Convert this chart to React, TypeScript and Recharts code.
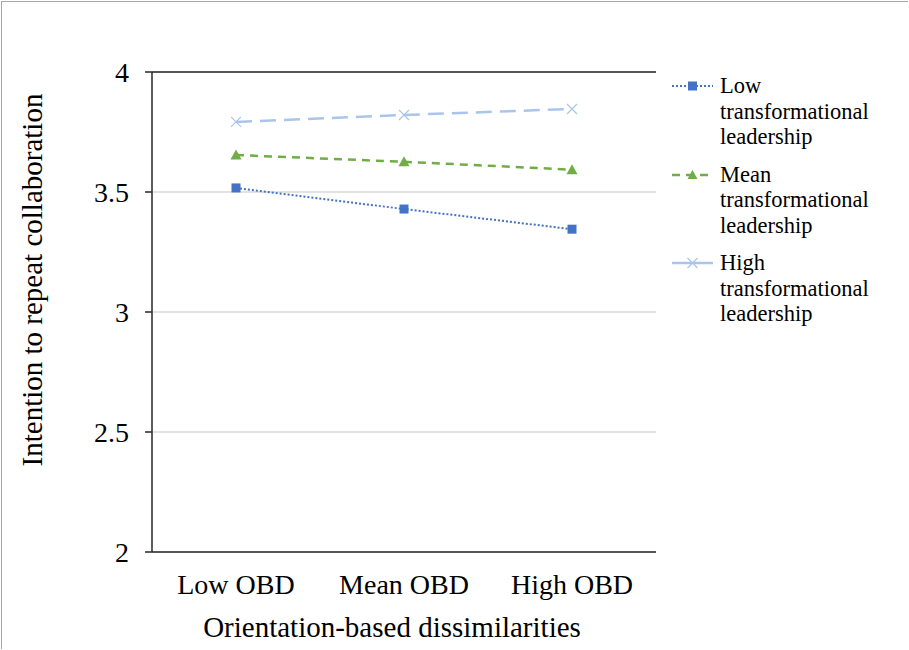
import React from 'react';
import { LineChart, Line, XAxis, YAxis, CartesianGrid, ReferenceLine, Label } from 'recharts';

const categories = ['Low OBD', 'Mean OBD', 'High OBD'];
const lowTL = [3.517, 3.429, 3.345];
const meanTL = [3.654, 3.626, 3.593];
const highTL = [3.792, 3.821, 3.846];
const yTicks = [2, 2.5, 3, 3.5, 4];
const seriesNames = ['Low transformational leadership', 'Mean transformational leadership', 'High transformational leadership'];

const data = categories.map((c, i) => ({ cat: c, low: lowTL[i], mean: meanTL[i], high: highTL[i] }));

const FONT = '"Liberation Serif", "Times New Roman", serif';
const C_LOW = '#4472C4';
const C_MEAN = '#70AD47';
const C_HIGH = '#A9C5EB';

const SquareDot = (p: any) => (
  <rect key={p.key ?? `s${p.index}`} x={p.cx - 4.5} y={p.cy - 4.5} width={9} height={9} fill={C_LOW} />
);
const TriDot = (p: any) => (
  <path key={p.key ?? `t${p.index}`} d={`M${p.cx},${p.cy - 5.5} L${p.cx + 5.5},${p.cy + 4.5} L${p.cx - 5.5},${p.cy + 4.5} Z`} fill={C_MEAN} />
);
const XDot = (p: any) => (
  <path key={p.key ?? `x${p.index}`} d={`M${p.cx - 5},${p.cy - 5} L${p.cx + 5},${p.cy + 5} M${p.cx - 5},${p.cy + 5} L${p.cx + 5},${p.cy - 5}`} stroke={C_HIGH} strokeWidth={1.2} fill="none" />
);

const legendItems = [
  { name: seriesNames[0], color: C_LOW, dash: '2 2', w: 2, marker: 'square' },
  { name: seriesNames[1], color: C_MEAN, dash: '8 6', w: 2.5, marker: 'tri' },
  { name: seriesNames[2], color: C_HIGH, dash: '', w: 2.5, marker: 'x' },
];

const LegendBox = () => (
  <div style={{ position: 'absolute', left: 671, top: 73, width: 236, fontFamily: FONT, fontSize: 22.5, color: '#000' }}>
    {legendItems.map((it, i) => {
      const words = it.name.split(' ');
      return (
        <div key={i} style={{ display: 'flex', alignItems: 'flex-start', marginBottom: 12 }}>
          <svg width={49} height={26} style={{ flex: 'none' }}>
            <line x1={1} y1={13} x2={42} y2={13} stroke={it.color} strokeWidth={it.w} strokeDasharray={it.dash || undefined} />
            {it.marker === 'square' && <rect x={17} y={8.5} width={9} height={9} fill={it.color} />}
            {it.marker === 'tri' && <path d="M21.5,8 L26.5,17 L16.5,17 Z" fill={it.color} />}
            {it.marker === 'x' && <path d="M16.5,8 L26.5,18 M16.5,18 L26.5,8" stroke={it.color} strokeWidth={1.2} />}
          </svg>
          <div style={{ lineHeight: '25.5px' }}>
            {words.map((w, j) => (<div key={j}>{w}</div>))}
          </div>
        </div>
      );
    })}
  </div>
);

export default function App() {
  return (
    <div style={{ position: 'absolute', left: 0, top: 0, width: 909, height: 650, background: '#fff', overflow: 'hidden' }}>
      <div style={{ position: 'absolute', left: 1, top: 1, width: 907, height: 648, borderTop: '1px solid #A6A6A6', borderLeft: '1px solid #A6A6A6', boxSizing: 'border-box' }} />
      <LineChart width={909} height={650} data={data} margin={{ top: 72, right: 253, bottom: 38, left: 92 }}>
        <CartesianGrid vertical={false} stroke="#D9D9D9" strokeWidth={1.5} />
        <XAxis
          dataKey="cat"
          padding={{ left: 84, right: 84 }}
          axisLine={{ stroke: '#262626', strokeWidth: 1.5 }}
          tickLine={false}
          tickSize={0}
          tickMargin={22}
          height={60}
          tick={{ fill: '#000', fontFamily: FONT, fontSize: 28 }}
        >
          <Label
            content={(props: any) => {
              const vb = props.viewBox;
              return (
                <text x={vb.x + vb.width / 2 - 12} y={637} textAnchor="middle" fontFamily={FONT} fontSize={29} fill="#000">
                  Orientation-based dissimilarities
                </text>
              );
            }}
          />
        </XAxis>
        <YAxis
          domain={[2, 4]}
          ticks={yTicks}
          width={60}
          axisLine={{ stroke: '#262626', strokeWidth: 1.5 }}
          tickLine={{ stroke: '#262626', strokeWidth: 1.5 }}
          tickSize={7}
          tickMargin={16}
          tick={{ fill: '#000', fontFamily: FONT, fontSize: 28 }}
        >
          <Label
            content={(props: any) => {
              const vb = props.viewBox;
              const cy = vb.y + vb.height / 2 - 32;
              return (
                <text x={42} y={cy} transform={`rotate(-90, 42, ${cy})`} textAnchor="middle" fontFamily={FONT} fontSize={29} fill="#000">
                  Intention to repeat collaboration
                </text>
              );
            }}
          />
        </YAxis>
        <YAxis yAxisId="r" orientation="right" domain={[2, 4]} width={0} tick={false} tickLine={false} axisLine={{ stroke: '#262626', strokeWidth: 1.5 }} />
        <ReferenceLine y={4} stroke="#262626" strokeWidth={1.5} />
        <Line name={seriesNames[0]} dataKey="low" stroke={C_LOW} strokeWidth={2} strokeDasharray="2 2" dot={SquareDot} activeDot={false} isAnimationActive={false} />
        <Line name={seriesNames[1]} dataKey="mean" stroke={C_MEAN} strokeWidth={2.5} strokeDasharray="8 6" dot={TriDot} activeDot={false} isAnimationActive={false} />
        <Line name={seriesNames[2]} dataKey="high" stroke={C_HIGH} strokeWidth={2.5} strokeDasharray="16 8" dot={XDot} activeDot={false} isAnimationActive={false} />
      </LineChart>
      <LegendBox />
    </div>
  );
}
